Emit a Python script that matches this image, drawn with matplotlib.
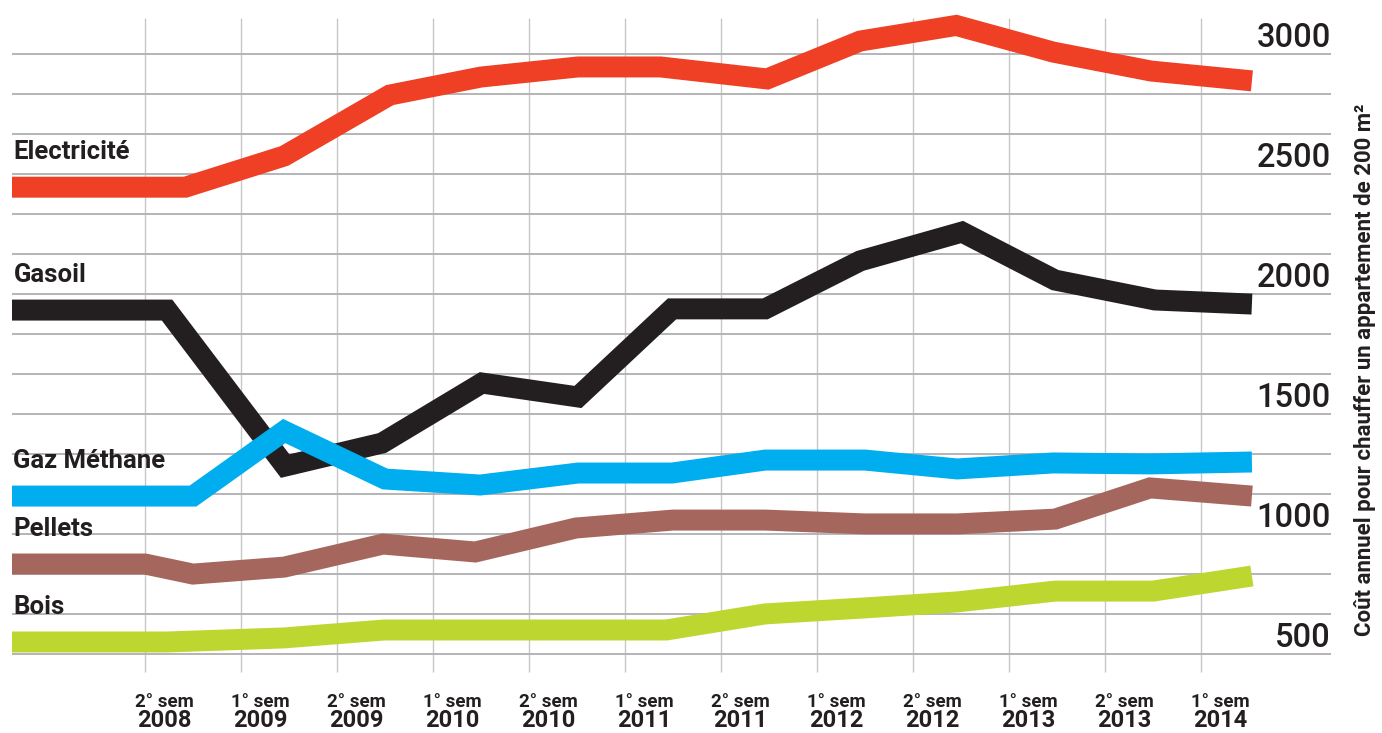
import matplotlib.pyplot as plt
import numpy as np

plt.rcParams['font.family'] = ['Roboto', 'DejaVu Sans']

# Semester ticks (gridline i = semester i)
sem_labels = ['2° sem', '1° sem', '2° sem', '1° sem', '2° sem', '1° sem',
              '2° sem', '1° sem', '2° sem', '1° sem', '2° sem', '1° sem']
year_labels = ['2008', '2009', '2009', '2010', '2010', '2011',
               '2011', '2012', '2012', '2013', '2013', '2014']
y_ticks = [3000, 2500, 2000, 1500, 1000, 500]

# Series (x in semester units, value in EUR/year)
elec_x = [-1.385, 0.42, 1.45, 2.55, 3.5, 4.51, 5.37, 6.48, 7.45, 8.45, 9.46, 10.48, 11.53]
elec_y = [2445, 2445, 2575, 2829, 2904, 2946, 2946, 2896, 3054, 3119, 3008, 2929, 2888]

gasoil_x = [-1.385, 0.23, 1.46, 2.47, 3.51, 4.51, 5.49, 6.46, 7.45, 8.51, 9.48, 10.52, 11.53]
gasoil_y = [1933, 1933, 1283, 1379, 1629, 1571, 1938, 1938, 2138, 2258, 2058, 1975, 1958]

gaz_x = [-1.385, 0.5, 1.45, 2.5, 3.49, 4.51, 5.49, 6.46, 7.5, 8.46, 9.46, 10.47, 11.53]
gaz_y = [1158, 1158, 1429, 1229, 1204, 1254, 1254, 1308, 1308, 1271, 1296, 1292, 1300]

pellets_x = [-1.385, 0.0, 0.5, 1.45, 2.48, 3.44, 4.49, 5.5, 6.46, 7.5, 8.46, 9.48, 10.47, 11.53]
pellets_y = [875, 875, 833, 862, 958, 925, 1025, 1058, 1058, 1042, 1042, 1062, 1192, 1158]

bois_x = [-1.385, 0.23, 1.45, 2.49, 5.43, 6.46, 7.5, 8.46, 9.48, 10.5, 11.53]
bois_y = [550, 550, 567, 600, 600, 667, 692, 717, 762, 762, 825]

series = [
    ('Electricité', elec_x, elec_y, '#ef3f24'),
    ('Gasoil', gasoil_x, gasoil_y, '#231f20'),
    ('Gaz Méthane', gaz_x, gaz_y, '#00aeef'),
    ('Pellets', pellets_x, pellets_y, '#a5675d'),
    ('Bois', bois_x, bois_y, '#bed630'),
]

fig = plt.figure(figsize=(13.82, 7.33), dpi=100)
ax = fig.add_axes([0, 0, 1, 1])
ax.set_xlim(-1.51, 12.885)
ax.set_ylim(170.8, 3225)
ax.axis('off')

# grid
ax.vlines(range(len(sem_labels)), 425, 3150, color='#c8c8ca', lw=1.0, zorder=1)
ax.hlines(np.linspace(500, 3000, 16), -1.385, 12.354, color='#b4b4b8', lw=1.4, zorder=1)

# lines + names
for name, xs, ys, col in series:
    ax.plot(xs, ys, color=col, lw=15.1, solid_capstyle='butt',
            solid_joinstyle='miter', zorder=3)
    ax.annotate(name, xy=(xs[0], ys[0]), xytext=(1.0, 20), textcoords='offset points',
                ha='left', va='baseline', fontsize=18.5, fontweight='bold',
                color='#231f20', zorder=4)

# value labels on the right
for v in y_ticks:
    ax.annotate(str(v), xy=(12.354, v), xytext=(0, 5), textcoords='offset points',
                ha='right', va='baseline', fontsize=23.5, fontweight='medium',
                color='#231f20')

# semester labels at bottom
for i, (s, yr) in enumerate(zip(sem_labels, year_labels)):
    ax.text(i + 0.2, 0.0355, s, transform=ax.get_xaxis_transform(),
            ha='center', va='baseline', fontsize=13.5, fontweight='bold', color='#231f20')
    ax.text(i + 0.2, 0.0082, yr, transform=ax.get_xaxis_transform(),
            ha='center', va='baseline', fontsize=17, fontweight='bold', color='#231f20')

fig.text(0.9877, 0.495, 'Coût annuel pour chauffer un appartement de 200 m²',
         rotation=90, ha='center', va='center', fontsize=16, fontweight='bold',
         color='#231f20')

fig.savefig('out.png', dpi=100)
